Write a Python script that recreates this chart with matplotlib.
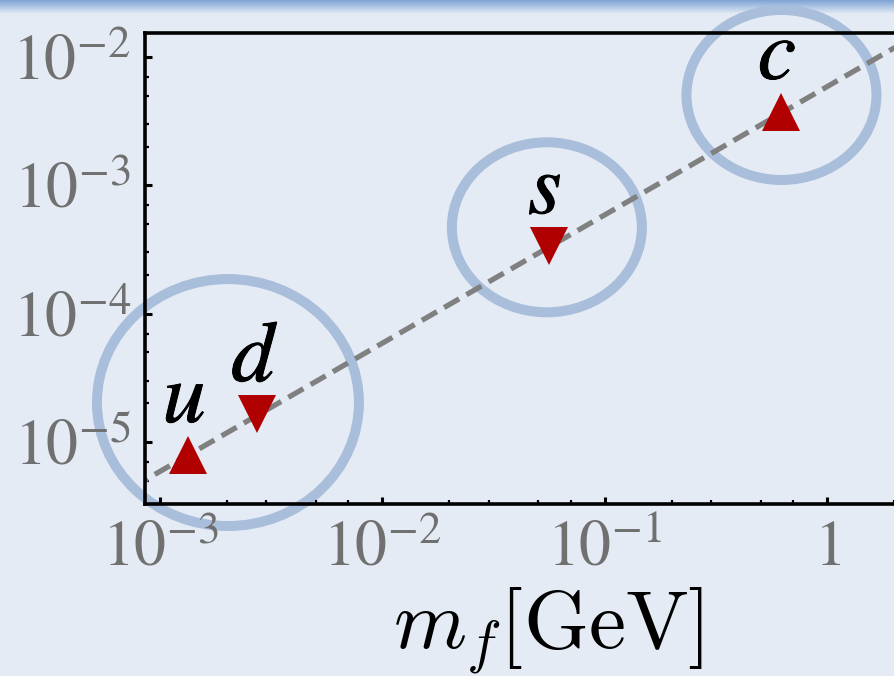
import numpy as np
import matplotlib
matplotlib.use("Agg")
import matplotlib.pyplot as plt
import matplotlib.patheffects as pe
from matplotlib.ticker import LogLocator, FuncFormatter, NullFormatter
from matplotlib.patches import Ellipse
from matplotlib.transforms import ScaledTranslation
from matplotlib.colors import LinearSegmentedColormap

# Quark masses [GeV] and the corresponding couplings
quarks = ["u", "d", "s", "c"]
masses = [1.34e-3, 2.73e-3, 0.056, 0.618]
couplings = [7.9e-6, 1.65e-5, 3.35e-4, 3.73e-3]
markers = ["^", "v", "v", "^"]

# Reference scaling line: coupling = coeff * m
line_coeff = 5.9e-3
line_mass_range = [1e-4, 10.0]

# Highlighted groups: centre (mass, coupling) and size (w, h) in points
group_centres = [(2.02e-3, 2.03e-5), (0.0548, 4.71e-4), (0.621, 5.06e-3)]
group_sizes = [(188.6, 177.8), (136.8, 122.4), (136.8, 122.4)]

BG = "#e4ebf4"
RED = "#b00000"
RING = "#a9bedb"
TICKGRAY = "#707070"

plt.rcParams["mathtext.fontset"] = "stix"
plt.rcParams["font.family"] = ["STIXGeneral", "DejaVu Serif"]
plt.rcParams["lines.scale_dashes"] = False

fig = plt.figure(figsize=(8.94, 6.76), dpi=100, facecolor=BG)

# Header band across the top edge
band = fig.add_axes([0, 1 - 14 / 676, 1, 14 / 676])
grad = np.linspace(0, 1, 50).reshape(-1, 1)
band_cmap = LinearSegmentedColormap.from_list("band", ["#7fa4d6", BG])
band.imshow(grad, aspect="auto", cmap=band_cmap, extent=[0, 1, 0, 1])
band.axis("off")

x_hi = 3.0
ax = fig.add_axes([145 / 894, 172 / 676,
                   (np.log10(x_hi) + 3.0674) * 222.5 / 894, 471 / 676])
ax.set_facecolor("none")
ax.set_xscale("log")
ax.set_yscale("log")
ax.set_xlim(10 ** -3.0674, x_hi)
ax.set_ylim(10 ** -5.483, 10 ** -1.813)

# Scaling line
xl = np.array(line_mass_range)
ax.plot(xl, line_coeff * xl, color="#808080", lw=3.8, dashes=[12.5, 6],
        zorder=3)

# Data points
for m, yv, mk in zip(masses, couplings, markers):
    ax.plot([m], [yv], marker=mk, ms=28, color=RED, mew=0, ls="none", zorder=4)

# Quark labels
for q, m, yv in zip(quarks, masses, couplings):
    ax.annotate(q, (m, yv), xytext=(-3, 24), textcoords="offset points",
                ha="center", va="baseline", fontsize=62, style="italic",
                color="black", zorder=5, annotation_clip=False,
                path_effects=[pe.withStroke(linewidth=0.7, foreground="black")])

# Rings around groups, fixed size on screen
for (cx, cy), (w, h) in zip(group_centres, group_sizes):
    tr = fig.dpi_scale_trans + ScaledTranslation(cx, cy, ax.transData)
    e = Ellipse((0, 0), w / 72, h / 72, transform=tr, fill=False,
                ec=RING, lw=7.2, clip_on=False, zorder=1)
    ax.add_artist(e)

# Axes styling
for side in ["top", "right", "left", "bottom"]:
    ax.spines[side].set_linewidth(2.6)
    ax.spines[side].set_color("black")
    ax.spines[side].set_zorder(6)

ax.xaxis.set_major_locator(LogLocator(base=10, numticks=20))
ax.yaxis.set_major_locator(LogLocator(base=10, numticks=20))
ax.xaxis.set_minor_locator(LogLocator(base=10, subs=[2, 3, 5, 7], numticks=20))
ax.yaxis.set_minor_locator(LogLocator(base=10, subs=[2, 3, 5, 7], numticks=20))


def fmt(v, pos):
    k = int(round(np.log10(v)))
    if k == 0:
        return r"$1$"
    return r"$10^{%d}$" % k


ax.xaxis.set_major_formatter(FuncFormatter(fmt))
ax.yaxis.set_major_formatter(FuncFormatter(fmt))
ax.xaxis.set_minor_formatter(NullFormatter())
ax.yaxis.set_minor_formatter(NullFormatter())

ax.tick_params(which="both", direction="in", top=False, right=False,
               labelsize=46, labelcolor=TICKGRAY, color="black")
ax.tick_params(which="major", length=5, width=2.2)
ax.tick_params(which="minor", length=3, width=1.6)
ax.tick_params(axis="x", which="major", pad=12)
ax.tick_params(axis="y", which="major", pad=10)

fig.text(548 / 894, 1 - 648 / 676, r"$m_f[\mathrm{GeV}]$", ha="center",
         va="baseline", fontsize=60, color="black", math_fontfamily="cm")

fig.savefig("out.png", dpi=100, facecolor=BG)
